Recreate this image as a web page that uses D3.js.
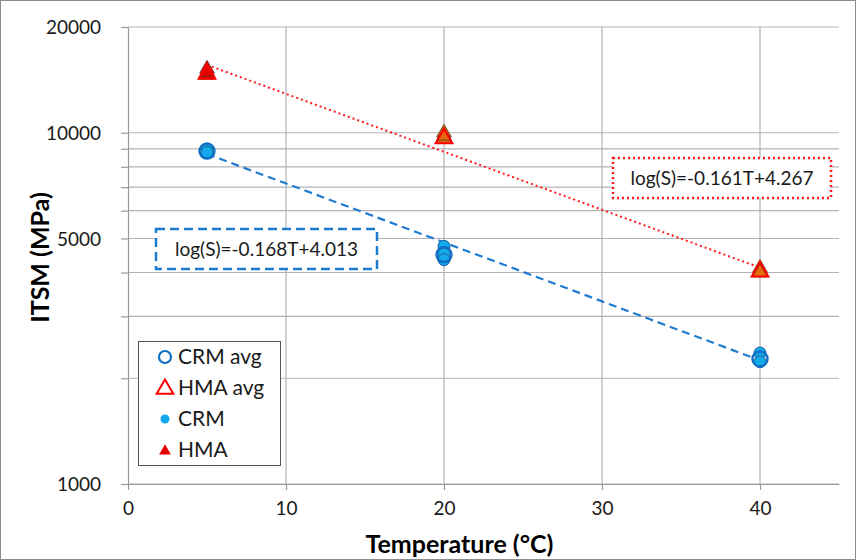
<!DOCTYPE html>
<html>
<head>
<meta charset="utf-8">
<script src="https://cdn.jsdelivr.net/npm/d3@7"></script>
<style>
  body { margin: 0; background: #fff; }
  svg { font-family: Lato, "Open Sans", sans-serif; }
</style>
</head>
<body>
<div id="chart"></div>
<script>
const width = 856;
const height = 560;
const margin = { top: 27, right: 17, bottom: 76, left: 128 };

// values
const temps = [5, 20, 40];
const crmPoints = [[5, 8950], [5, 8800], [20, 4750], [20, 4520], [20, 4350], [40, 2360], [40, 2230]];
const hmaPoints = [[5, 15200], [5, 14600], [5, 14900], [20, 10000], [20, 9600], [20, 9800], [40, 4120], [40, 4000]];
const crmAvg = [[5, 8870], [20, 4500], [40, 2270]];
const hmaAvg = [[5, 14800], [20, 9700], [40, 4050]];
const crmTrend = [[5, 8700], [40, 2250]];
const hmaTrend = [[5, 15600], [40, 4130]];
const xTicks = [0, 10, 20, 30, 40];
const yTicks = [1000, 5000, 10000, 20000];
const yGrid = [1000, 2000, 3000, 4000, 5000, 6000, 7000, 8000, 9000, 10000, 20000];
const legendItems = ['CRM avg', 'HMA avg', 'CRM', 'HMA'];
const crmLabel = 'log(S)=-0.168T+4.013';
const hmaLabel = 'log(S)=-0.161T+4.267';

const usable = {
    left: margin.left,
    right: width - margin.right,
    top: margin.top,
    bottom: height - margin.bottom
};

const x = d3.scaleLinear().domain([0, 45]).range([usable.left, usable.right]);
const y = d3.scaleLog().domain([1000, 20000]).range([usable.bottom, usable.top]);

const svg = d3.select('#chart').append('svg')
    .attr('width', width)
    .attr('height', height);

svg.append('rect')
    .attr('x', 0.5).attr('y', 0.5)
    .attr('width', width - 1).attr('height', height - 1)
    .attr('fill', '#fff').attr('stroke', '#8c8c8c');

// gridlines
svg.append('g')
    .selectAll('line')
    .data(yGrid)
    .join('line')
    .attr('x1', usable.left).attr('x2', usable.right)
    .attr('y1', d => y(d)).attr('y2', d => y(d))
    .attr('stroke', '#b3b3b3').attr('stroke-width', 1.2);

svg.append('g')
    .selectAll('line')
    .data(xTicks.slice(1))
    .join('line')
    .attr('x1', d => x(d)).attr('x2', d => x(d))
    .attr('y1', usable.top).attr('y2', usable.bottom)
    .attr('stroke', '#b3b3b3').attr('stroke-width', 1.2);

// axes
const xAxis = svg.append('g')
    .attr('transform', `translate(0, ${usable.bottom})`)
    .call(d3.axisBottom(x).tickValues(xTicks).tickSize(6).tickSizeOuter(0).tickPadding(12));

const yAxis = svg.append('g')
    .attr('transform', `translate(${usable.left}, 0)`)
    .call(d3.axisLeft(y).tickValues(yGrid).tickSize(7).tickSizeOuter(0).tickPadding(20)
        .tickFormat(d => yTicks.includes(d) ? String(d) : ''));

[xAxis, yAxis].forEach(g => {
    g.select('.domain').attr('stroke', '#9a9a9a').attr('stroke-width', 1.2);
    g.selectAll('.tick line').attr('stroke', '#9a9a9a').attr('stroke-width', 1.2);
    g.selectAll('.tick text').attr('font-size', 19).attr('fill', '#1a1a1a')
        .attr('font-family', 'Lato, sans-serif');
});
yAxis.selectAll('.tick text').attr('dy', '0.35em');

svg.append('text')
    .attr('x', (usable.left + usable.right) / 2 - 24)
    .attr('y', 553)
    .attr('text-anchor', 'middle')
    .attr('font-size', 25).attr('font-weight', 'bold')
    .text('Temperature (°C)');

svg.append('text')
    .attr('transform', `translate(49, ${(usable.top + usable.bottom) / 2 + 2}) rotate(-90)`)
    .attr('text-anchor', 'middle')
    .attr('font-size', 25).attr('font-weight', 'bold')
    .text('ITSM (MPa)');

// trend lines
const line = d3.line().x(d => x(d[0])).y(d => y(d[1]));
svg.append('path').datum(hmaTrend)
    .attr('d', line).attr('fill', 'none')
    .attr('stroke', '#ff1a1a').attr('stroke-width', 2).attr('stroke-dasharray', '2,3');
svg.append('path').datum(crmTrend)
    .attr('d', line).attr('fill', 'none')
    .attr('stroke', '#1f7bd0').attr('stroke-width', 2.2).attr('stroke-dasharray', '8,5');

// markers
const tri = d3.symbol().type(d3.symbolTriangle);
const hmaFill = d3.scaleOrdinal().domain(temps).range(['#e60000', '#e56b0c', '#e56b0c']);

svg.append('g').selectAll('path')
    .data(hmaPoints)
    .join('path')
    .attr('transform', d => `translate(${x(d[0])}, ${y(d[1])})`)
    .attr('d', tri.size(95)())
    .attr('fill', d => hmaFill(d[0]))
    .attr('stroke', '#5a3a2a').attr('stroke-width', 0.8);

svg.append('g').selectAll('path')
    .data(hmaAvg)
    .join('path')
    .attr('transform', d => `translate(${x(d[0])}, ${y(d[1]) + 1})`)
    .attr('d', tri.size(120)())
    .attr('fill', 'none')
    .attr('stroke', '#ff0000').attr('stroke-width', 2);

svg.append('g').selectAll('circle')
    .data(crmPoints)
    .join('circle')
    .attr('cx', d => x(d[0])).attr('cy', d => y(d[1]))
    .attr('r', 6)
    .attr('fill', '#14a9ec')
    .attr('stroke', '#1b5f9a').attr('stroke-width', 1);

svg.append('g').selectAll('circle')
    .data(crmAvg)
    .join('circle')
    .attr('cx', d => x(d[0])).attr('cy', d => y(d[1]))
    .attr('r', 7.5)
    .attr('fill', 'none')
    .attr('stroke', '#0f6fc0').attr('stroke-width', 2.4);

// equation boxes
function eqBox(x0, y0, w, h, label, color, dash, sw) {
    svg.append('rect')
        .attr('x', x0).attr('y', y0).attr('width', w).attr('height', h)
        .attr('fill', '#fff').attr('stroke', color)
        .attr('stroke-width', sw).attr('stroke-dasharray', dash);
    svg.append('text')
        .attr('x', x0 + w / 2).attr('y', y0 + h / 2)
        .attr('dy', '0.35em').attr('text-anchor', 'middle')
        .attr('font-size', 19).attr('fill', '#1a1a1a')
        .text(label);
}
eqBox(613, 158, 218, 40, hmaLabel, '#ff1a1a', '2,3', 2.5);
eqBox(156, 229, 221, 40, crmLabel, '#1f7bd0', '9,5', 2.5);

// legend
const legend = svg.append('g');
legend.append('rect')
    .attr('x', 138.5).attr('y', 341.5).attr('width', 142).attr('height', 124)
    .attr('fill', '#fff').attr('stroke', '#555').attr('stroke-width', 1);

const rowY = d3.scalePoint().domain(legendItems).range([357, 450]);
legendItems.forEach(name => {
    const yy = rowY(name);
    if (name === 'CRM avg') {
        legend.append('circle').attr('cx', 165).attr('cy', yy).attr('r', 6)
            .attr('fill', 'none').attr('stroke', '#0f6fc0').attr('stroke-width', 2.2);
    } else if (name === 'HMA avg') {
        legend.append('path').attr('transform', `translate(165, ${yy + 1})`)
            .attr('d', tri.size(120)()).attr('fill', 'none')
            .attr('stroke', '#ff0000').attr('stroke-width', 2);
    } else if (name === 'CRM') {
        legend.append('circle').attr('cx', 165).attr('cy', yy).attr('r', 4.5)
            .attr('fill', '#14a9ec');
    } else {
        legend.append('path').attr('transform', `translate(165, ${yy + 1})`)
            .attr('d', tri.size(60)()).attr('fill', '#e60000');
    }
    legend.append('text')
        .attr('x', 178).attr('y', yy).attr('dy', '0.35em')
        .attr('font-size', 21).attr('fill', '#1a1a1a')
        .text(name);
});
</script>
</body>
</html>
